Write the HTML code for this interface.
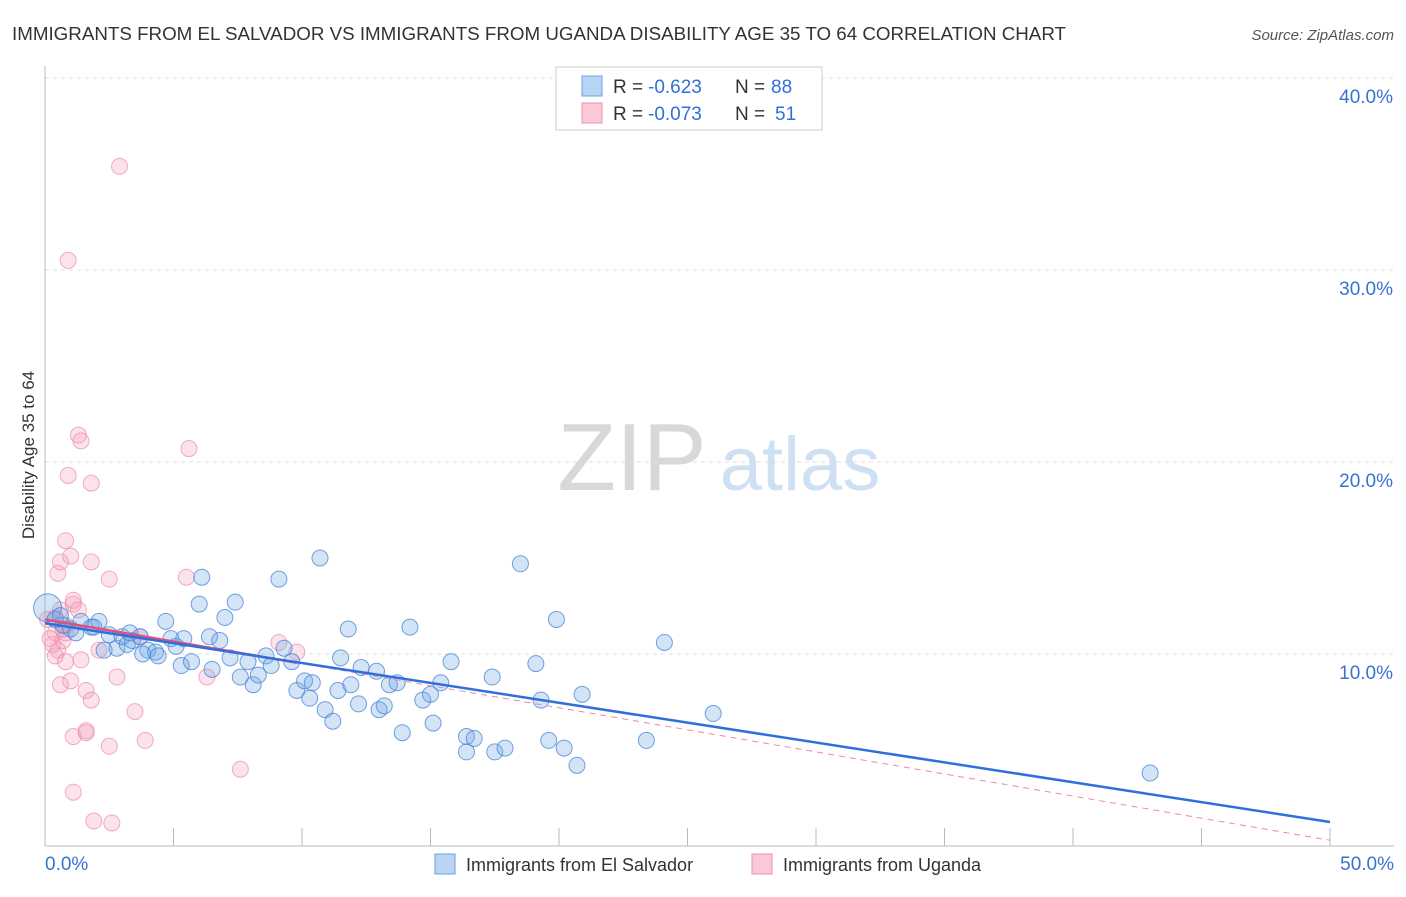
<!DOCTYPE html>
<html><head><meta charset="utf-8"><style>
body{margin:0;background:#fff;font-family:"Liberation Sans",sans-serif;}
svg text{font-family:"Liberation Sans",sans-serif;}
</style></head><body>
<svg id="chart" width="1406" height="892">
<text x="12" y="40" font-size="18" fill="#333" textLength="1054" lengthAdjust="spacingAndGlyphs">IMMIGRANTS FROM EL SALVADOR VS IMMIGRANTS FROM UGANDA DISABILITY AGE 35 TO 64 CORRELATION CHART</text>
<text x="1394" y="40" font-size="15" fill="#555" text-anchor="end" font-style="italic">Source: ZipAtlas.com</text>
<text x="40" y="455" font-size="17" fill="#333" transform="rotate(-90 40 455)" text-anchor="middle" dy="-6">Disability Age 35 to 64</text>
<g><text x="632" y="490" font-size="96" fill="#d8d8d8" font-family="Liberation Serif" text-anchor="middle">ZIP</text><text x="800" y="490" font-size="76" fill="#cfe0f3" text-anchor="middle">atlas</text></g>
<g id="grid"></g><g id="axes"></g><g id="marks"></g>
<g>
<rect x="556" y="67" width="266" height="63" fill="#fff" stroke="#ccc"/>
<rect x="582" y="76" width="20" height="20" fill="#b8d3f3" stroke="#6aa0e0"/>
<rect x="582" y="103" width="20" height="20" fill="#fac8d6" stroke="#ee93ad"/>
<text x="613" y="93" font-size="19" fill="#333">R =</text><text x="648" y="93" font-size="19" fill="#2f6fdc">-0.623</text>
<text x="735" y="93" font-size="19" fill="#333">N =</text><text x="771" y="93" font-size="19" fill="#2f6fdc">88</text>
<text x="613" y="120" font-size="19" fill="#333">R =</text><text x="648" y="120" font-size="19" fill="#2f6fdc">-0.073</text>
<text x="735" y="120" font-size="19" fill="#333">N =</text><text x="775" y="120" font-size="19" fill="#2f6fdc">51</text>
</g>
<g>
<rect x="435" y="854" width="20" height="20" fill="#b8d3f3" stroke="#6aa0e0"/>
<text x="466" y="871" font-size="18" fill="#333">Immigrants from El Salvador</text>
<rect x="752" y="854" width="20" height="20" fill="#fac8d6" stroke="#ee93ad"/>
<text x="783" y="871" font-size="18" fill="#333">Immigrants from Uganda</text>
</g>
</svg>
<script>
const yTicks=[10,20,30,40];
const xTickVals=[0,5,10,15,20,25,30,35,40,45,50];
const blueX=[0.1,0.4,0.7,1.0,1.4,1.8,2.1,2.3,2.5,2.8,3.0,3.2,3.4,3.7,4.0,4.3,4.4,4.7,4.9,5.1,5.3,5.4,5.7,6.0,6.1,6.4,6.5,6.8,7.0,7.2,7.4,7.6,7.9,8.1,8.3,8.6,8.8,9.1,9.3,9.6,9.8,10.1,10.3,10.4,10.7,10.9,11.2,11.4,11.5,11.8,11.9,12.2,12.3,12.9,13.0,13.2,13.4,13.7,13.9,14.2,14.7,15.0,15.1,15.4,15.8,16.4,16.4,16.7,17.4,17.5,17.9,18.5,19.3,19.1,19.6,19.9,20.2,20.7,20.9,23.4,24.1,26.0,43.0,1.9,0.6,1.2,3.3,3.8];
const blueY=[12.4,11.8,11.5,11.3,11.7,11.4,11.7,10.2,11.0,10.3,10.9,10.5,10.7,10.9,10.2,10.1,9.9,11.7,10.8,10.4,9.4,10.8,9.6,12.6,14.0,10.9,9.2,10.7,11.9,9.8,12.7,8.8,9.6,8.4,8.9,9.9,9.4,13.9,10.3,9.6,8.1,8.6,7.7,8.5,15.0,7.1,6.5,8.1,9.8,11.3,8.4,7.4,9.3,9.1,7.1,7.3,8.4,8.5,5.9,11.4,7.6,7.9,6.4,8.5,9.6,5.7,4.9,5.6,8.8,4.9,5.1,14.7,7.6,9.5,5.5,11.8,5.1,4.2,7.9,5.5,10.6,6.9,3.8,11.4,12.0,11.1,11.1,10.0];
const pinkX=[0.1,0.3,0.4,0.5,0.6,0.7,0.8,0.5,0.6,0.8,1.0,1.1,1.1,1.3,1.8,2.5,0.8,0.9,1.3,1.4,1.8,5.6,2.9,0.9,0.4,0.6,0.8,1.0,1.4,1.6,1.8,2.1,2.8,3.5,3.9,1.1,1.6,1.6,2.5,1.1,1.9,2.6,7.6,6.3,5.5,9.8,3.7,9.1,0.2,0.4,0.7];
const pinkY=[11.8,10.5,11.1,10.2,12.3,10.7,11.5,14.2,14.8,15.9,15.1,12.6,12.8,12.3,14.8,13.9,11.1,19.3,21.4,21.1,18.9,20.7,35.4,30.5,9.9,8.4,9.6,8.6,9.7,8.1,7.6,10.2,8.8,7.0,5.5,5.7,5.9,6.0,5.2,2.8,1.3,1.2,4.0,8.8,14.0,10.1,10.9,10.6,10.8,11.9,11.3];
const blueFit=[11.6,1.25];
const pinkFit=[11.8,0.3];
const pinkSolidEnd=9.8;
const NS="http://www.w3.org/2000/svg";
const xs=v=>45+v*25.7, ys=v=>846-v*19.2;
function mk(t,a,p){const e=document.createElementNS(NS,t);for(const k in a)e.setAttribute(k,a[k]);p.appendChild(e);return e;}
const grid=document.getElementById('grid'),axes=document.getElementById('axes'),marks=document.getElementById('marks');
yTicks.forEach(t=>{
 const l=mk('line',{x1:45,x2:1394,y1:ys(t),y2:ys(t),stroke:'#ddd','stroke-dasharray':'4,4'},grid);
 
 
 const tx=mk('text',{x:1393,y:ys(t)+25,'font-size':19,fill:'#3a72d0','text-anchor':'end'},axes);tx.textContent=t.toFixed(1)+'%';
 
 
});
mk('line',{x1:45,x2:45,y1:66,y2:846,stroke:'#bbb'},axes);
mk('line',{x1:45,x2:1394,y1:846,y2:846,stroke:'#bbb'},axes);
xTickVals.forEach(t=>{const l=mk('line',{x1:xs(t),x2:xs(t),y1:828,y2:846,stroke:'#bbb'},axes);
 
 });
let a=mk('text',{x:45,y:870,'font-size':19,fill:'#3a72d0'},axes);a.textContent='0.0%';


a=mk('text',{x:1394,y:870,'font-size':19,fill:'#3a72d0','text-anchor':'end'},axes);a.textContent='50.0%';


pinkX.forEach((x,i)=>{const c=mk('circle',{cx:xs(x),cy:ys(pinkY[i]),r:8,fill:'rgba(245,160,185,0.3)',stroke:'rgba(235,140,170,0.7)','stroke-width':1},marks);
 
 });
blueX.forEach((x,i)=>{const c=mk('circle',{cx:xs(x),cy:ys(blueY[i]),r:i===0?14:8,fill:'rgba(110,165,230,0.3)',stroke:'rgba(70,130,215,0.75)','stroke-width':1},marks);
 
 });
const pf=x=>pinkFit[0]+(pinkFit[1]-pinkFit[0])*x/50;
let ln=mk('line',{x1:xs(pinkSolidEnd),y1:ys(pf(pinkSolidEnd)),x2:xs(50),y2:ys(pinkFit[1]),stroke:'#e88aa8','stroke-width':1,'stroke-dasharray':'6,5'},marks);


ln=mk('line',{x1:xs(0),y1:ys(pinkFit[0]),x2:xs(pinkSolidEnd),y2:ys(pf(pinkSolidEnd)),stroke:'#e0507a','stroke-width':2.5},marks);


ln=mk('line',{x1:xs(0),y1:ys(blueFit[0]),x2:xs(50),y2:ys(blueFit[1]),stroke:'#2f6fdc','stroke-width':2.5},marks);


</script>
</body></html>
